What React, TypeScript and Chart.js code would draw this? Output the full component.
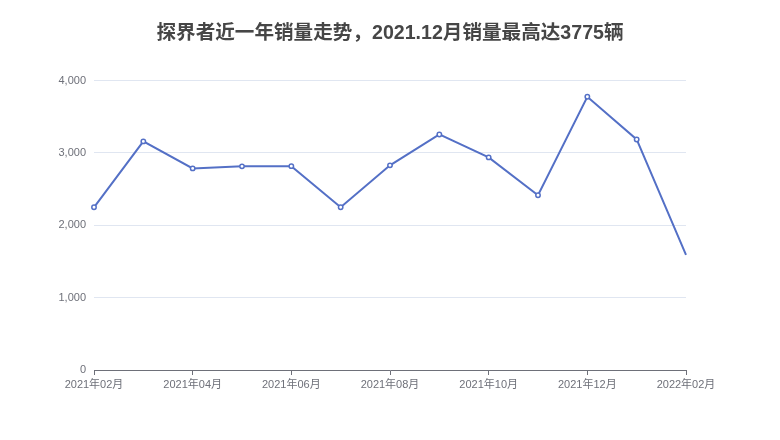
import React, { useEffect, useRef } from "react";
import { Chart, registerables } from "chart.js";

Chart.register(...registerables);

const titleText = "探界者近一年销量走势，2021.12月销量最高达3775辆";
const months = [
  "2021年02月", "2021年03月", "2021年04月", "2021年05月", "2021年06月", "2021年07月",
  "2021年08月", "2021年09月", "2021年10月", "2021年11月", "2021年12月", "2022年01月", "2022年02月",
];
const sales = [2248, 3159, 2786, 2814, 2817, 2248, 2828, 3255, 2938, 2414, 3775, 3186, 1590];
const yTicks = [0, 1000, 2000, 3000, 4000];

const FONT = '"Liberation Sans", "Noto Sans CJK SC", sans-serif';

export default function App() {
  const ref = useRef<HTMLCanvasElement | null>(null);
  useEffect(() => {
    document.body.style.margin = "0";
    const ctx = ref.current!;
    const chart = new Chart(ctx, {
      type: "line",
      data: {
        labels: months,
        datasets: [
          {
            data: sales,
            borderColor: "#5470c6",
            borderWidth: 2,
            backgroundColor: "#ffffff",
            pointBackgroundColor: "#ffffff",
            pointBorderColor: "#5470c6",
            pointBorderWidth: 1.5,
            pointRadius: sales.map((_, i) => (i === sales.length - 1 ? 0 : 2.2)),
            tension: 0,
            fill: false,
          },
        ],
      },
      options: {
        responsive: false,
        animation: false,
        layout: { padding: { left: 0, right: 0, top: 0, bottom: 0 } },
        plugins: {
          legend: { display: false },
          tooltip: { enabled: false },
          title: {
            display: true,
            text: titleText,
            color: "#464646",
            font: { family: FONT, size: 19.6, weight: "bold" },
            padding: { top: 22, bottom: 35 },
          },
        },
        scales: {
          x: {
            type: "category",
            offset: false,
            afterFit: (s: any) => {
              s.height = 70;
            },
            border: { display: true, color: "#6e7079", width: 1 },
            grid: {
              drawOnChartArea: false,
              drawTicks: true,
              tickLength: 5,
              color: (c: any) => (c.index % 2 === 0 ? "#6e7079" : "rgba(0,0,0,0)"),
            },
            ticks: {
              autoSkip: false,
              maxRotation: 0,
              minRotation: 0,
              padding: 3,
              color: "#6e7079",
              font: { family: FONT, size: 11 },
              callback: (_v: any, i: number) => (i % 2 === 0 ? months[i] : ""),
            },
          },
          y: {
            min: yTicks[0],
            max: yTicks[yTicks.length - 1],
            afterFit: (s: any) => {
              s.width = 94;
            },
            afterBuildTicks: (s: any) => {
              s.ticks = yTicks.map((v) => ({ value: v }));
            },
            border: { display: false },
            grid: { color: "#e0e6f1", drawTicks: false, lineWidth: 1 },
            ticks: {
              padding: 8,
              color: "#6e7079",
              font: { family: FONT, size: 11 },
              callback: (v: any) => Number(v).toLocaleString("en-US"),
            },
          },
          yRight: {
            position: "right",
            display: true,
            afterFit: (s: any) => {
              s.width = 94;
            },
            border: { display: false },
            grid: { display: false, drawOnChartArea: false },
            ticks: { display: false },
          },
        },
      },
    } as any);
    return () => chart.destroy();
  }, []);
  return (
    <div style={{ width: 780, height: 440, background: "#fff" }}>
      <canvas ref={ref} width={780} height={440} />
    </div>
  );
}
